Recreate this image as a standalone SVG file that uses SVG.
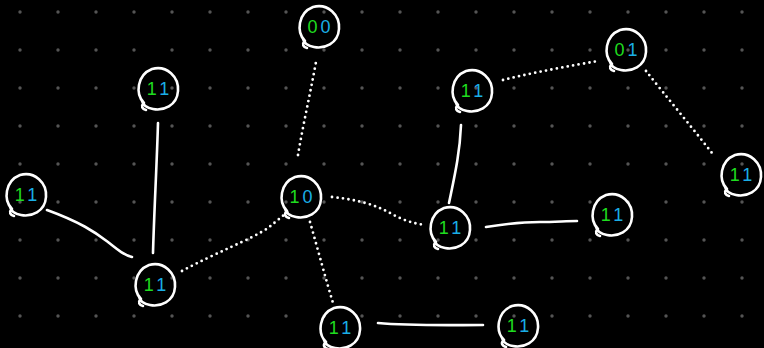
<svg xmlns="http://www.w3.org/2000/svg" width="764" height="348" viewBox="0 0 764 348">
  <defs>
    <pattern id="grid" x="1" y="-7" width="38" height="38" patternUnits="userSpaceOnUse">
      <circle cx="19" cy="19" r="1.7" fill="#555555"/>
    </pattern>
    <!-- sketchy node outline with a small pen overlap at the lower left -->
    <path id="blob" d="M -14,14 C -23,5 -21,-14 -6,-20 C 9,-24 21,-12 20,2 C 19,17 5,22 -5,20 C -11,19 -15,16 -16,12 M -15,15 C -17,17 -16,20 -12,21"/>
  </defs>
  <style>
    .outline { fill: none; stroke: #ffffff; stroke-width: 2.6; stroke-linecap: round; stroke-linejoin: round; }
    .solid { fill: none; stroke: #ffffff; stroke-width: 2.6; stroke-linecap: round; }
    .dotted { fill: none; stroke: #ffffff; stroke-width: 2.8; stroke-linecap: round; stroke-dasharray: 0 5.5; }
    .lbl { font-family: "Liberation Sans", Arial, sans-serif; font-size: 18px; text-anchor: middle; }
    .g { fill: #1fdc1f; }
    .b { fill: #1aaee6; }
  </style>

  <rect width="764" height="348" fill="#000000"/>
  <rect width="764" height="348" fill="url(#grid)"/>

  <g id="connectors">
    <path class="solid" d="M 158,123 C 157,160 154,215 153,253"/>
    <path class="solid" d="M 47,210 C 80,222 95,232 108,242 C 118,250 124,255 132,257"/>
    <path class="dotted" d="M 182,271 C 215,253 250,240 268,228 C 278,220 285,214 290,210"/>
    <path class="dotted" d="M 298,155 C 303,125 310,95 316,62"/>
    <path class="dotted" d="M 332,197 C 360,200 375,205 390,213 C 402,220 415,224 426,225"/>
    <path class="dotted" d="M 310,222 C 318,250 326,280 333,303"/>
    <path class="solid" d="M 378,323 C 410,326 450,325 483,325"/>
    <path class="solid" d="M 486,227 C 505,224 520,222 540,222 C 555,222 566,221 577,221"/>
    <path class="solid" d="M 461,125 C 460,150 456,170 449,203"/>
    <path class="dotted" d="M 503,80 C 535,72 570,66 598,61"/>
    <path class="dotted" d="M 646,71 C 665,95 690,125 712,153"/>
  </g>

  <g id="n00" transform="translate(319,27)">
    <use href="#blob" class="outline"/>
    <text class="lbl" y="6"><tspan class="g">0</tspan><tspan class="b" dx="3">0</tspan></text>
  </g>
  <g id="n-top-left" transform="translate(158,89)">
    <use href="#blob" class="outline"/>
    <text class="lbl" y="6"><tspan class="g">1</tspan><tspan class="b" dx="4">1</tspan></text>
  </g>
  <g id="n-left" transform="translate(26,195)">
    <use href="#blob" class="outline"/>
    <text class="lbl" y="6"><tspan class="g">1</tspan><tspan class="b" dx="4">1</tspan></text>
  </g>
  <g id="n10" transform="translate(301,197)">
    <use href="#blob" class="outline"/>
    <text class="lbl" y="6"><tspan class="g">1</tspan><tspan class="b" dx="3">0</tspan></text>
  </g>
  <g id="n-upper-mid" transform="translate(472,91)">
    <use href="#blob" class="outline"/>
    <text class="lbl" y="6"><tspan class="g">1</tspan><tspan class="b" dx="4">1</tspan></text>
  </g>
  <g id="n01" transform="translate(626,50)">
    <use href="#blob" class="outline"/>
    <text class="lbl" y="6"><tspan class="g">0</tspan><tspan class="b" dx="3">1</tspan></text>
  </g>
  <g id="n-right" transform="translate(741,175)">
    <use href="#blob" class="outline"/>
    <text class="lbl" y="6"><tspan class="g">1</tspan><tspan class="b" dx="4">1</tspan></text>
  </g>
  <g id="n-mid" transform="translate(450,228)">
    <use href="#blob" class="outline"/>
    <text class="lbl" y="6"><tspan class="g">1</tspan><tspan class="b" dx="4">1</tspan></text>
  </g>
  <g id="n-mid-right" transform="translate(612,215)">
    <use href="#blob" class="outline"/>
    <text class="lbl" y="6"><tspan class="g">1</tspan><tspan class="b" dx="4">1</tspan></text>
  </g>
  <g id="n-bottom-left" transform="translate(155,285)">
    <use href="#blob" class="outline"/>
    <text class="lbl" y="6"><tspan class="g">1</tspan><tspan class="b" dx="4">1</tspan></text>
  </g>
  <g id="n-bottom" transform="translate(340,328)">
    <use href="#blob" class="outline"/>
    <text class="lbl" y="6"><tspan class="g">1</tspan><tspan class="b" dx="4">1</tspan></text>
  </g>
  <g id="n-bottom-right" transform="translate(518,326)">
    <use href="#blob" class="outline"/>
    <text class="lbl" y="6"><tspan class="g">1</tspan><tspan class="b" dx="4">1</tspan></text>
  </g>
</svg>
